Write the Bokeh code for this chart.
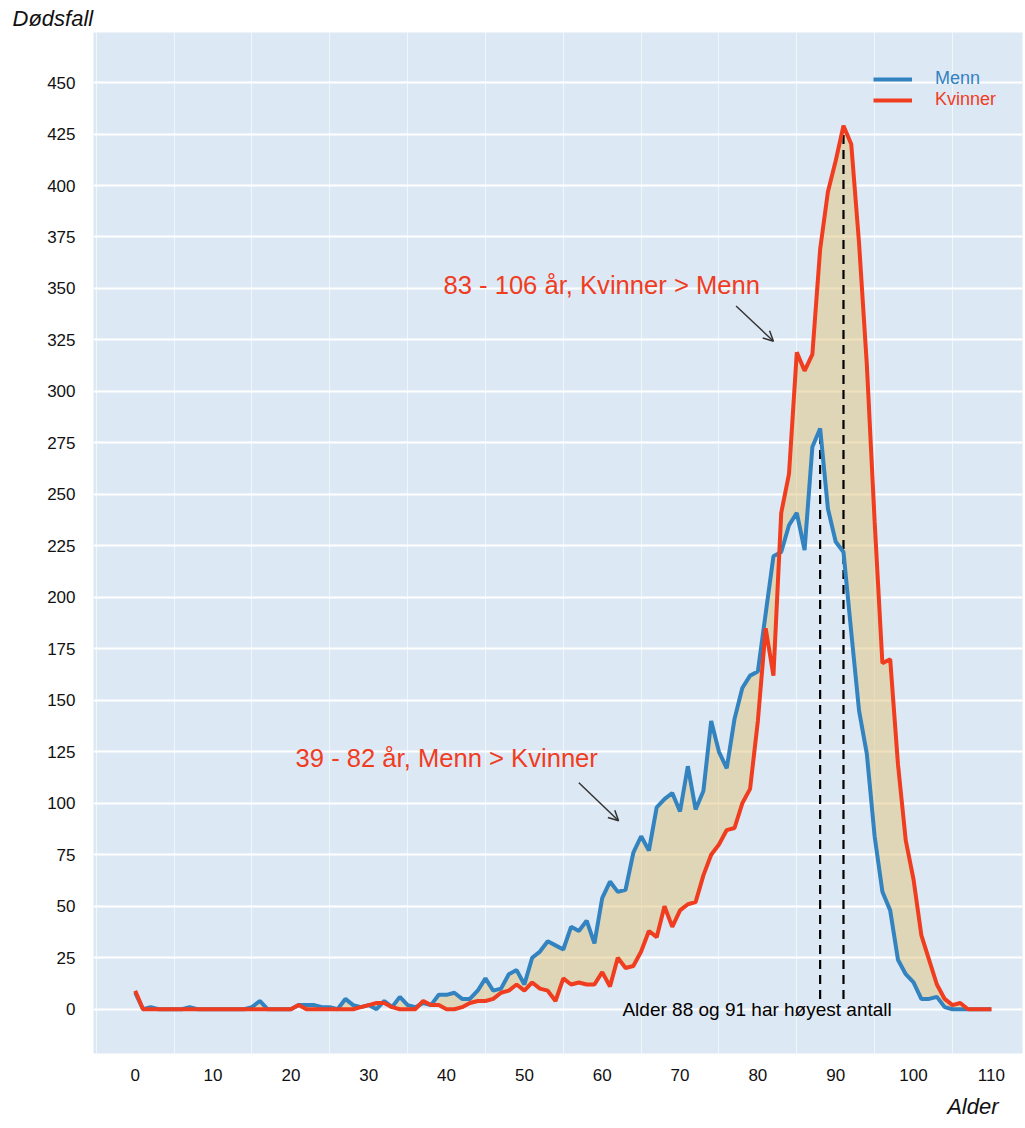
from bokeh.plotting import figure
from bokeh.models import (Range1d, FixedTicker, Label, Arrow, OpenHead, Legend,
                          LegendItem, ColumnDataSource, Title)
from bokeh.embed import file_html
from bokeh.resources import INLINE

# ---------------- data ----------------
ages = list(range(0, 111))
men = [8, 0, 1, 0, 0, 0, 0, 1, 0, 0,
       0, 0, 0, 0, 0, 1, 4, 0, 0, 0,
       0, 2, 2, 2, 1, 1, 0, 5, 2, 1,
       2, 0, 4, 1, 6, 2, 1, 3, 2, 7,
       7, 8, 5, 5, 9, 15, 9, 10, 17, 19,
       12, 25, 28, 33, 31, 29, 40, 38, 43, 32,
       54, 62, 57, 58, 76, 84, 77, 98, 102, 105,
       96, 118, 97, 106, 140, 125, 117, 141, 156, 162,
       164, 192, 220, 222, 235, 241, 223, 273, 282, 243,
       227, 222, 183, 145, 124, 84, 57, 48, 24, 17,
       13, 5, 5, 6, 1, 0, 0, 0, 0, 0, 0]
women = [9, 0, 0, 0, 0, 0, 0, 0, 0, 0,
         0, 0, 0, 0, 0, 0, 0, 0, 0, 0,
         0, 2, 0, 0, 0, 0, 0, 0, 0, 1,
         2, 3, 3, 1, 0, 0, 0, 4, 2, 2,
         0, 0, 1, 3, 4, 4, 5, 8, 9, 12,
         9, 13, 10, 9, 4, 15, 12, 13, 12, 12,
         18, 11, 25, 20, 21, 28, 38, 35, 50, 40,
         48, 51, 52, 65, 75, 80, 87, 88, 100, 107,
         140, 185, 162, 241, 260, 319, 310, 318, 369, 397,
         412, 429, 420, 372, 313, 237, 168, 170, 119, 82,
         63, 36, 24, 12, 5, 2, 3, 0, 0, 0, 0]
x_ticks = list(range(0, 111, 10))
y_ticks = list(range(0, 451, 25))
series_names = ["Menn", "Kvinner"]
note_text = "Alder 88 og 91 har høyest antall"
ann_women = "83 - 106 år, Kvinner > Menn"
ann_men = "39 - 82 år, Menn > Kvinner"
y_title = "Dødsfall"
x_title = "Alder"

BLUE = "#3283c0"
RED = "#f03c1f"
FONT = "Liberation Sans"

src = ColumnDataSource(dict(age=ages, men=men, women=women))

p = figure(width=1025, height=1128, output_backend="svg", toolbar_location=None,
           x_range=Range1d(-5.36, 114.0), y_range=Range1d(-21.5, 474.3),
           min_border_left=93, min_border_right=3, min_border_top=32,
           min_border_bottom=75)
p.background_fill_color = "#dde8f5"
p.border_fill_color = "white"
p.outline_line_color = None

for ax in (p.xaxis, p.yaxis):
    ax.axis_line_color = None
    ax.major_tick_line_color = None
    ax.minor_tick_line_color = None
    ax.major_tick_out = 0
    ax.major_tick_in = 0
    ax.major_label_text_font = FONT
    ax.major_label_text_font_size = "17px"
    ax.major_label_text_color = "#111111"
p.xaxis.ticker = FixedTicker(ticks=x_ticks)
p.yaxis.ticker = FixedTicker(ticks=y_ticks)
p.xaxis.major_label_standoff = 15
p.yaxis.major_label_standoff = 18

p.ygrid.ticker = FixedTicker(ticks=y_ticks)
p.ygrid.grid_line_color = "white"
p.ygrid.grid_line_width = 2
p.xgrid.ticker = FixedTicker(ticks=[t - 5 for t in x_ticks])
p.xgrid.grid_line_color = "white"
p.xgrid.grid_line_width = 1
p.xgrid.grid_line_alpha = 0.6

# fill between the two series
p.varea(x="age", y1="men", y2="women", source=src, fill_color="#e2c47c", fill_alpha=0.5)

# peak markers
men_peak = ages[men.index(max(men))]
women_peak = ages[women.index(max(women))]
p.segment(x0=[men_peak, women_peak], y0=[5, 5], x1=[men_peak, women_peak],
          y1=[max(men), max(women)], line_color="black", line_width=2.2,
          line_dash="9 6")

r_men = p.line("age", "men", source=src, line_color=BLUE, line_width=4)
r_women = p.line("age", "women", source=src, line_color=RED, line_width=4)

for name, r, col, loc in ((series_names[0], r_men, BLUE, (780, 964)),
                          (series_names[1], r_women, RED, (780, 943))):
    leg = Legend(items=[LegendItem(label=name, renderers=[r])], location=loc,
                 label_text_color=col, label_text_font=FONT,
                 label_text_font_size="18px", glyph_width=39, glyph_height=20,
                 label_height=20, label_standoff=23, padding=0, margin=0,
                 spacing=0, border_line_alpha=0, background_fill_alpha=0)
    p.add_layout(leg)

# annotations
p.add_layout(Label(x=39.6, y=345, text=ann_women, text_color=RED,
                   text_font=FONT, text_font_size="25.6px"))
p.add_layout(Label(x=20.6, y=115, text=ann_men, text_color=RED,
                   text_font=FONT, text_font_size="25.6px"))
p.add_layout(Arrow(end=OpenHead(size=10, line_color="#333333", line_width=1.5),
                   x_start=77.2, y_start=341.5, x_end=82.0, y_end=324.4,
                   line_color="#333333", line_width=1.5))
p.add_layout(Arrow(end=OpenHead(size=10, line_color="#333333", line_width=1.5),
                   x_start=57.0, y_start=110.0, x_end=62.1, y_end=91.5,
                   line_color="#333333", line_width=1.5))
p.add_layout(Label(x=62.6, y=0, text=note_text, text_color="black",
                   text_font=FONT, text_font_size="19px", text_baseline="middle"))

# axis titles
p.add_layout(Title(text=y_title, align="left", offset=-81, standoff=4,
                   text_font=FONT, text_font_style="italic",
                   text_font_size="22px", text_color="#111111"), "above")
p.add_layout(Title(text=x_title, align="right", offset=24, standoff=16,
                   text_font=FONT, text_font_style="italic",
                   text_font_size="22px", text_color="#111111"), "below")

open("out.html", "w").write(file_html(p, INLINE))
